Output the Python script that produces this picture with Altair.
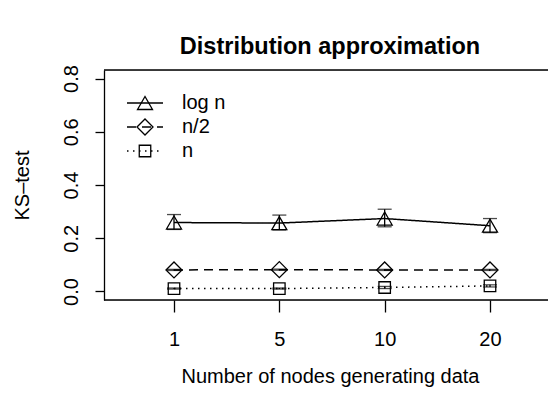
import altair as alt
import pandas as pd

# ---- data ----
x_labels = ["1", "5", "10", "20"]
series = ["log n", "n/2", "n"]

logn_mean = [0.259, 0.257, 0.274, 0.247]
logn_lo = [0.233, 0.231, 0.243, 0.221]
logn_hi = [0.289, 0.287, 0.309, 0.274]

half_mean = [0.081, 0.082, 0.081, 0.081]
half_lo = [0.079, 0.080, 0.079, 0.079]
half_hi = [0.083, 0.084, 0.083, 0.083]

n_mean = [0.011, 0.011, 0.015, 0.021]
n_lo = [0.009, 0.009, 0.011, 0.017]
n_hi = [0.013, 0.013, 0.019, 0.025]

y_ticks = [0.0, 0.2, 0.4, 0.6, 0.8]

rows = []
for name, m, lo, hi in [("log n", logn_mean, logn_lo, logn_hi),
                        ("n/2", half_mean, half_lo, half_hi),
                        ("n", n_mean, n_lo, n_hi)]:
    for i, (xl, a, b, c) in enumerate(zip(x_labels, m, lo, hi)):
        rows.append({"series": name, "pos": i + 1, "nodes": xl,
                     "mean": a, "lo": b, "hi": c})
df = pd.DataFrame(rows)

FONT = "Liberation Sans"
FS = 20
W, H = 444, 230          # plot area (right edge runs off the page like the reference)
CX = 226                 # horizontal centre of the full (uncropped) plot region

label_expr = "{" + ", ".join(f"'{i + 1}': '{l}'" for i, l in enumerate(x_labels)) + "}[datum.value]"

x_scale = alt.Scale(domain=[0.33544, 0.33544 + W / 105.333], nice=False, zero=False)
x_axis = alt.Axis(title="Number of nodes generating data", values=list(range(1, len(x_labels) + 1)),
                  labelExpr=label_expr, labelAngle=0, grid=False,
                  domain=False, ticks=True, tickSize=12, tickColor="black",
                  tickWidth=1.3, labelPadding=33, labelBaseline="alphabetic",
                  labelFontSize=FS, labelFont=FONT, labelColor="black",
                  titleFontSize=FS, titleFont=FONT, titleFontWeight="normal",
                  titleColor="black", titleBaseline="alphabetic", titleY=82,
                  titleX=CX, titleAlign="center")
y_scale = alt.Scale(domain=[-0.032, 0.832], nice=False, zero=False)
y_axis = alt.Axis(title="KS\u2013test", values=y_ticks, format=".1f", grid=False,
                  domain=True, domainColor="black", domainWidth=1.3,
                  tickSize=9, tickColor="black", tickWidth=1.3,
                  labelAngle=270, labelAlign="center", labelBaseline="alphabetic",
                  labelPadding=18, labelFontSize=FS, labelFont=FONT, labelColor="black",
                  titleFontSize=FS, titleFont=FONT, titleFontWeight="normal",
                  titleColor="black", titleAngle=270, titleBaseline="alphabetic",
                  titleAlign="center", titleX=-75.5, titleY=H / 2)

X = alt.X("pos:Q", scale=x_scale, axis=x_axis)


def Y(field):
    return alt.Y(field, scale=y_scale, axis=y_axis)


base = alt.Chart(df)

dash_list = [[1, 0], [9, 6], [1.5, 4.5]]
shape_list = ["triangle-up", "diamond", "square"]
size_list = [225, 256, 132]

lines = base.mark_line(color="black", strokeWidth=1.5).encode(
    x=X, y=Y("mean:Q"),
    strokeDash=alt.StrokeDash("series:N", scale=alt.Scale(domain=series, range=dash_list),
                              legend=None),
)
bars = base.mark_rule(color="black", strokeWidth=1.3).encode(x=X, y=Y("lo:Q"), y2="hi:Q")
cap_lo = base.mark_tick(color="black", thickness=1.3, size=14, orient="horizontal").encode(
    x=X, y=Y("lo:Q"))
cap_hi = base.mark_tick(color="black", thickness=1.3, size=14, orient="horizontal").encode(
    x=X, y=Y("hi:Q"))

point_layers = []
for i, name in enumerate(series):
    point_layers.append(
        base.transform_filter(alt.datum.series == name).mark_point(
            filled=False, color="black", strokeWidth=1.3, opacity=1,
            shape=shape_list[i], size=size_list[i]).encode(x=X, y=Y("mean:Q")))

# plot box (top and bottom; left side is the y-axis domain)
one = pd.DataFrame({"a": [0]})
box_top = alt.Chart(one).mark_rule(color="black", strokeWidth=1.3).encode(
    x=alt.value(0), x2=alt.value(W), y=alt.value(0))
box_bottom = alt.Chart(one).mark_rule(color="black", strokeWidth=1.3).encode(
    x=alt.value(0), x2=alt.value(W), y=alt.value(H))

# main title as a text mark (exact placement)
title_df = pd.DataFrame({"t": ["Distribution approximation"]})
title = alt.Chart(title_df).mark_text(align="center", baseline="alphabetic", font=FONT,
                                      fontSize=23.5, fontWeight="bold", color="black").encode(
    x=alt.value(CX), y=alt.value(-16), text="t:N")

# manual legend (R-style: line segment with symbol in the middle)
legend_layers = []
for i, name in enumerate(series):
    ly = 33 + 24 * i
    ld = pd.DataFrame({"label": [name]})
    legend_layers.append(alt.Chart(ld).mark_rule(color="black", strokeWidth=1.5,
                                                 strokeDash=dash_list[i]).encode(
        x=alt.value(23), x2=alt.value(59), y=alt.value(ly)))
    legend_layers.append(alt.Chart(ld).mark_point(filled=False, color="black", strokeWidth=1.3,
                                                  opacity=1, shape=shape_list[i],
                                                  size=size_list[i]).encode(
        x=alt.value(41), y=alt.value(ly)))
    legend_layers.append(alt.Chart(ld).mark_text(align="left", baseline="middle",
                                                 font=FONT, fontSize=FS, color="black").encode(
        x=alt.value(78), y=alt.value(ly), text="label:N"))

chart = alt.layer(lines, bars, cap_lo, cap_hi, *point_layers, box_top, box_bottom,
                  title, *legend_layers).properties(
    width=W, height=H,
    autosize=alt.AutoSizeParams(type="none"),
    padding={"left": 96, "top": 62, "right": 0, "bottom": 87},
).configure_view(stroke=None).configure(background="white")

chart.save("out.html", embed_options={"renderer": "svg", "actions": False})
